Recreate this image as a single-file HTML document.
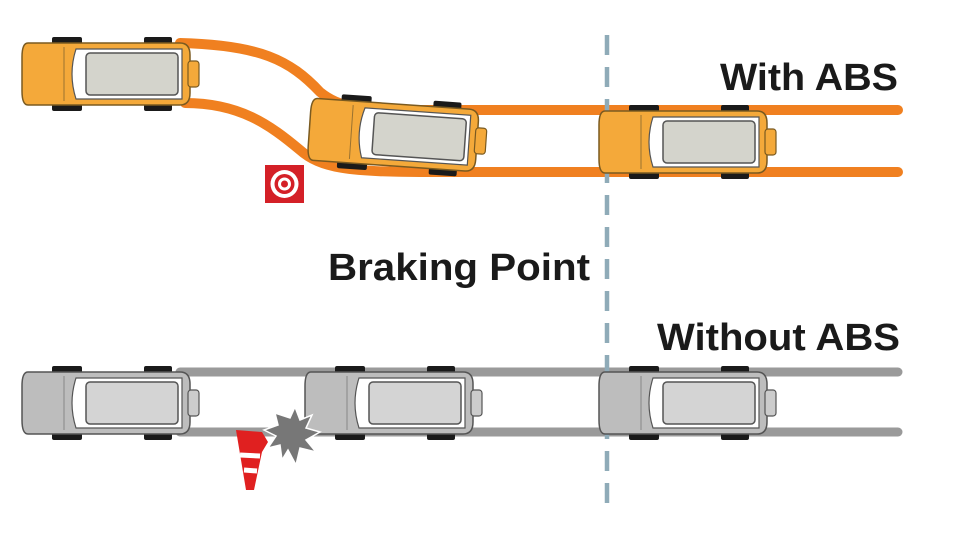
<!DOCTYPE html>
<html><head><style>
html,body{margin:0;padding:0;background:#fff;width:973px;height:534px;overflow:hidden}
svg{display:block}
text{font-family:"Liberation Sans",Arial,sans-serif;font-weight:bold;fill:#1a1a1a}
</style></head><body>
<svg width="973" height="534" viewBox="0 0 973 534" xmlns="http://www.w3.org/2000/svg">
<defs>
<g id="carO">
  <rect x="32" y="0" width="30" height="10" rx="2" fill="#1a1a1a"/>
  <rect x="124" y="0" width="28" height="10" rx="2" fill="#1a1a1a"/>
  <rect x="32" y="64" width="30" height="10" rx="2" fill="#1a1a1a"/>
  <rect x="124" y="64" width="28" height="10" rx="2" fill="#1a1a1a"/>
  <path d="M8 6 Q2 6 2 20 L2 54 Q2 68 8 68 L160 68 Q170 68 170 56 L170 18 Q170 6 160 6 Z" fill="#f4a93a" stroke="#7a5a20" stroke-width="1.5"/>
  <rect x="168" y="24" width="11" height="26" rx="3" fill="#f4a93a" stroke="#7a5a20" stroke-width="1.2"/>
  <path d="M56 12 L162 12 L162 62 L56 62 Q48 37 56 12Z" fill="#fff" stroke="#555" stroke-width="1.2"/>
  <rect x="66" y="16" width="92" height="42" rx="4" fill="#d4d4cc" stroke="#555" stroke-width="1.5"/>
  <line x1="44" y1="10" x2="44" y2="64" stroke="#9a7230" stroke-width="1"/>
</g>
<g id="carG">
  <rect x="32" y="0" width="30" height="10" rx="2" fill="#1a1a1a"/>
  <rect x="124" y="0" width="28" height="10" rx="2" fill="#1a1a1a"/>
  <rect x="32" y="64" width="30" height="10" rx="2" fill="#1a1a1a"/>
  <rect x="124" y="64" width="28" height="10" rx="2" fill="#1a1a1a"/>
  <path d="M8 6 Q2 6 2 20 L2 54 Q2 68 8 68 L160 68 Q170 68 170 56 L170 18 Q170 6 160 6 Z" fill="#bdbdbd" stroke="#555" stroke-width="1.5"/>
  <rect x="168" y="24" width="11" height="26" rx="3" fill="#ccc" stroke="#555" stroke-width="1.2"/>
  <path d="M56 12 L162 12 L162 62 L56 62 Q48 37 56 12Z" fill="#fff" stroke="#555" stroke-width="1.2"/>
  <rect x="66" y="16" width="92" height="42" rx="4" fill="#d4d4d4" stroke="#555" stroke-width="1.5"/>
  <line x1="44" y1="10" x2="44" y2="64" stroke="#888" stroke-width="1"/>
</g>
</defs>
<g fill="none" stroke="#f08020" stroke-width="10" stroke-linecap="round">
  <path d="M180 43 C260 45 290 60 320 92 C340 108 360 110 420 110 L898 110"/>
  <path d="M185 103 C240 103 270 125 300 150 C320 168 350 172 420 172 L898 172"/>
</g>
<g stroke="#9a9a9a" stroke-width="9" stroke-linecap="round">
  <line x1="180" y1="372" x2="898" y2="372"/>
  <line x1="180" y1="432" x2="898" y2="432"/>
</g>
<line x1="607" y1="35" x2="607" y2="512" stroke="#8fabb8" stroke-width="4.5" stroke-dasharray="20 12"/>
<use href="#carO" x="20" y="37"/>
<use href="#carO" transform="translate(310,92) rotate(4)"/>
<use href="#carO" x="597" y="105"/>
<use href="#carG" x="20" y="366"/>
<use href="#carG" x="303" y="366"/>
<use href="#carG" x="597" y="366"/>
<rect x="265" y="165" width="39" height="38" fill="#d42027"/>
<circle cx="284.5" cy="184" r="14" fill="#fff"/>
<circle cx="284.5" cy="184" r="10" fill="#d42027"/>
<circle cx="284.5" cy="184" r="6.5" fill="#fff"/>
<circle cx="284.5" cy="184" r="3.5" fill="#d42027"/>
<polygon points="275,413 290,418 295,407 300,420 312,415 306,428 320,432 306,440 316,452 300,448 296,465 288,450 282,460 280,445 268,448 276,436 264,430 278,425" fill="#777" stroke="#fff" stroke-width="1.5"/>
<polygon points="236,430 262,432 268,442 262,452 254,490 246,490" fill="#e02020"/>
<path d="M240 455 L260 456 M244 470 L257 471" stroke="#fff" stroke-width="5"/>
<text x="720" y="90" font-size="38" textLength="178" lengthAdjust="spacingAndGlyphs">With ABS</text>
<text x="328" y="280" font-size="38" textLength="262" lengthAdjust="spacingAndGlyphs">Braking Point</text>
<text x="657" y="350" font-size="38" textLength="243" lengthAdjust="spacingAndGlyphs">Without ABS</text>
</svg>
</body></html>
